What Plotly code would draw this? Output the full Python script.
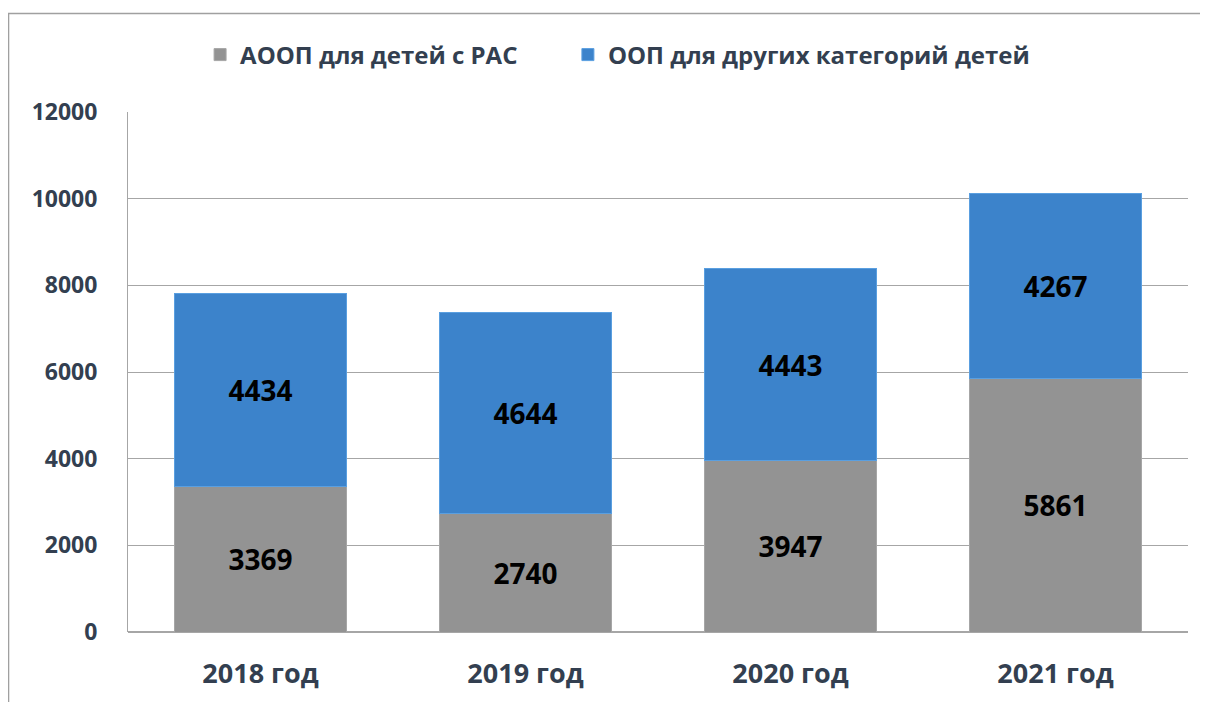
import plotly.graph_objects as go

years = ["2018 год", "2019 год", "2020 год", "2021 год"]
rac_values = [3369, 2740, 3947, 5861]
other_values = [4434, 4644, 4443, 4267]
series_names = ["АООП для детей с РАС", "ООП для других категорий детей"]
y_ticks = [0, 2000, 4000, 6000, 8000, 10000, 12000]

TEXT_COLOR = "#333F50"
FONT = "Open Sans"

fig = go.Figure()
fig.add_trace(go.Bar(
    x=years, y=rac_values, name=series_names[0], legend="legend", showlegend=True,
    marker=dict(color="#939393", line=dict(color="#A6A6A6", width=1)),
    text=rac_values, textposition="inside", insidetextanchor="middle",
    textfont=dict(family=FONT, size=28, color="black", weight="bold"),
))
fig.add_trace(go.Bar(
    x=years, y=other_values, name=series_names[1], legend="legend2", showlegend=True,
    marker=dict(color="#3C83CB", line=dict(color="#5A9FE0", width=1)),
    text=other_values, textposition="inside", insidetextanchor="middle",
    textfont=dict(family=FONT, size=28, color="black", weight="bold"),
))

# outer frame of the chart area (left and top edges)
fig.add_shape(type="path", xref="paper", yref="paper",
              path="M -0.1127,-0.14 L -0.1127,1.1894 L 1.02,1.1894",
              line=dict(color="#A0A0A0", width=1.5))

legend_font = dict(family=FONT, size=24, color=TEXT_COLOR, weight="bold")
fig.update_layout(
    width=1200, height=694, showlegend=True,
    barmode="stack", bargap=0.35,
    plot_bgcolor="white", paper_bgcolor="white",
    margin=dict(l=120, r=20, t=104, b=70),
    font=dict(family=FONT, color=TEXT_COLOR),
    legend=dict(orientation="h", x=0.068, xanchor="left", y=1.1096, yanchor="middle",
                font=legend_font),
    legend2=dict(orientation="h", x=0.415, xanchor="left", y=1.1096, yanchor="middle",
                 font=legend_font),
    xaxis=dict(showgrid=False, ticks="", ticklabelstandoff=23,
               tickfont=dict(family=FONT, size=27, color=TEXT_COLOR, weight="bold")),
    yaxis=dict(range=[0, 12000], tickvals=y_ticks, tickformat="d", showgrid=True,
               gridcolor="#A6A6A6", gridwidth=1, showline=True, linecolor="#A6A6A6",
               zeroline=True, zerolinecolor="#A6A6A6", ticks="", ticklabelstandoff=25,
               tickfont=dict(family=FONT, size=23, color=TEXT_COLOR, weight="bold")),
)

fig.write_html("out.html")
